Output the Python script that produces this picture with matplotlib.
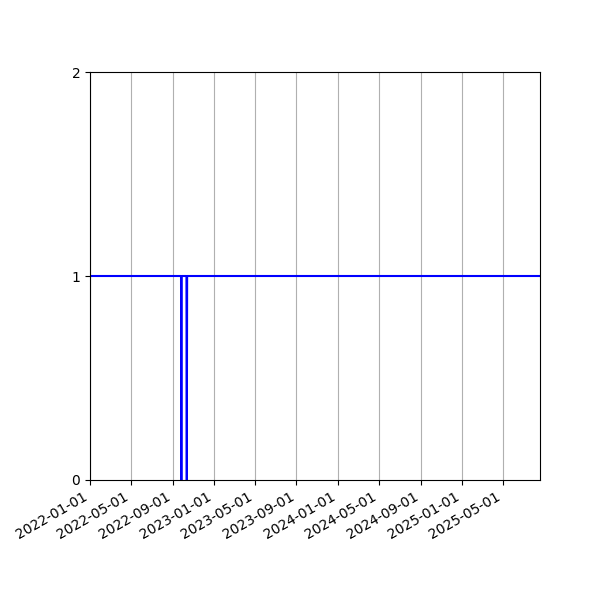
import matplotlib
matplotlib.use("Agg")
from matplotlib import pyplot as plt
import matplotlib.dates as mdates
import numpy as np

# status series: 1 = up, 0 = down
dates = ["2022-01-01", "2022-09-26", "2022-09-27", "2022-09-28",
         "2022-10-12", "2022-10-13", "2022-10-14", "2025-08-18"]
values = [1, 1, 0, 1, 1, 0, 1, 1]
y_ticks = [0, 1, 2]

x = np.array(dates, dtype="datetime64[D]")

fig, ax = plt.subplots(figsize=(6, 6), dpi=100)
ax.plot(x, values, color="blue", linewidth=1.5)

ax.set_xlim(x[0], x[-1])
ax.set_ylim(0, 2)
ax.set_yticks(y_ticks)

ax.xaxis.set_major_locator(mdates.MonthLocator(bymonth=[1, 5, 9]))
ax.xaxis.set_major_formatter(mdates.DateFormatter("%Y-%m-%d"))
ax.grid(True, axis="x")

fig.autofmt_xdate()
fig.subplots_adjust(left=0.15, right=0.9, top=0.88, bottom=0.2)

fig.savefig("out.png")
